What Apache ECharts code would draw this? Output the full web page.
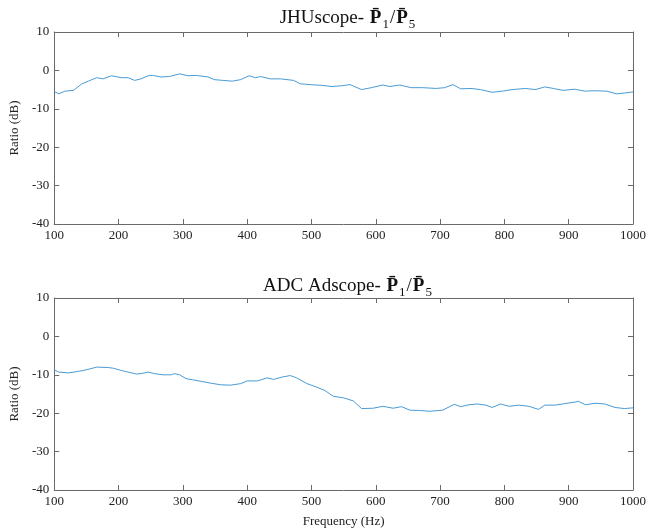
<!DOCTYPE html>
<html><head><meta charset="utf-8">
<script src="https://cdn.jsdelivr.net/npm/echarts@6/dist/echarts.min.js"></script>
<style>html,body{margin:0;padding:0;background:#fff}#c{width:649px;height:531px}</style>
</head><body><div id="c"></div>
<script>
const xTicks = [100,200,300,400,500,600,700,800,900,1000];
const yTicks = [-40,-30,-20,-10,0,10];
const topTitle = 'JHUscope- ';
const botTitle = 'ADC Adscope- ';
const xName = 'Frequency (Hz)';
const yName = 'Ratio (dB)';
const topFreq = [100,107,117,130,143,153,166,176,189,205,215,225,235,246,253,266,279,295,308,320,339,349,362,377,390,403,413,421,436,452,472,483,498,516,532,547,560,578,593,611,622,637,655,673,694,707,720,732,748,763,781,797,812,833,848,863,876,891,909,925,941,959,974,987,1000];
const topVal = [-5.5,-6.1,-5.4,-5.2,-3.5,-2.8,-1.9,-2.2,-1.4,-1.9,-1.9,-2.6,-2.2,-1.4,-1.3,-1.7,-1.6,-0.9,-1.4,-1.3,-1.7,-2.4,-2.6,-2.8,-2.4,-1.4,-1.9,-1.6,-2.2,-2.2,-2.6,-3.5,-3.7,-3.9,-4.2,-4.0,-3.7,-5.0,-4.5,-3.8,-4.2,-3.8,-4.5,-4.5,-4.7,-4.5,-3.7,-4.8,-4.7,-5.0,-5.7,-5.4,-5.0,-4.7,-5.0,-4.3,-4.7,-5.2,-4.9,-5.4,-5.3,-5.4,-6.1,-5.9,-5.6];
const botFreq = [100,107,122,138,150,166,184,192,205,215,228,235,246,256,269,282,287,295,305,315,328,344,359,374,390,400,416,431,441,454,467,477,493,508,521,534,550,565,578,596,611,627,640,653,668,684,704,722,732,745,758,771,781,794,807,822,838,853,863,879,894,910,915,926,941,956,972,987,1000];
const botVal = [-8.7,-9.3,-9.5,-9.1,-8.7,-8.0,-8.1,-8.3,-8.9,-9.3,-9.8,-9.7,-9.3,-9.7,-10.0,-10.0,-9.7,-10.0,-11.0,-11.3,-11.7,-12.2,-12.6,-12.7,-12.3,-11.6,-11.6,-10.8,-11.2,-10.6,-10.2,-10.8,-12.3,-13.2,-14.1,-15.6,-16.0,-16.8,-18.8,-18.7,-18.2,-18.7,-18.3,-19.2,-19.3,-19.5,-19.2,-17.7,-18.3,-17.8,-17.6,-17.9,-18.5,-17.6,-18.2,-17.9,-18.2,-19.0,-17.9,-17.9,-17.5,-17.1,-16.9,-17.8,-17.4,-17.6,-18.5,-18.8,-18.6];

const FONT = '"Liberation Serif","DejaVu Serif",serif';
const AX = '#6a6a6a';
const LINE = '#4a9bd6';
const pairs = (xs, ys) => xs.map((x, i) => [x, ys[i]]);

function titleRich() {
  return {
    a: {fontFamily: FONT, fontSize: 19, fontWeight: 'normal', color: '#111', lineHeight: 24, verticalAlign: 'bottom'},
    b: {fontFamily: FONT, fontSize: 19, fontWeight: 'bold', color: '#111', lineHeight: 24, verticalAlign: 'bottom', padding: [0,1,0,1]},
    s: {fontFamily: FONT, fontSize: 13, fontWeight: 'normal', color: '#111', lineHeight: 20, verticalAlign: 'bottom', padding: [0,1,-3,0]}
  };
}
function titleText(t) { return '{a|' + t + '}{b|P\u0304}{s|1}{a|/}{b|P\u0304}{s|5}'; }

const grids = [
  {left: 53, right: 14, top: 32, height: 192},
  {left: 53, right: 14, top: 298, height: 192}
];
const xAxes = [], yAxes = [];
grids.forEach((g, i) => {
  const base = {gridIndex: i, type: 'value', min: 100, max: 1000, interval: 100,
    axisLine: {show: true, onZero: false, lineStyle: {color: AX, width: 1}},
    axisTick: {show: true, inside: true, length: 5, lineStyle: {color: AX}},
    splitLine: {show: false}};
  xAxes.push(Object.assign({}, base, {position: 'bottom',
    axisLabel: {show: true, fontFamily: FONT, fontSize: 13, color: '#222', margin: 5, formatter: v => String(v)},
    name: i === 1 ? xName : '', nameLocation: 'middle', nameGap: 25,
    nameTextStyle: {fontFamily: FONT, fontSize: 13, color: '#222'}}));
  xAxes.push(Object.assign({}, base, {position: 'top', axisLabel: {show: false}}));
  const ybase = {gridIndex: i, type: 'value', min: -40, max: 10, interval: 10,
    axisLine: {show: true, onZero: false, lineStyle: {color: AX, width: 1}},
    axisTick: {show: true, inside: true, length: 5, lineStyle: {color: AX}},
    splitLine: {show: false}};
  yAxes.push(Object.assign({}, ybase, {position: 'left',
    axisLabel: {show: true, fontFamily: FONT, fontSize: 13, color: '#222', margin: 5},
    name: yName, nameLocation: 'middle', nameGap: 31,
    nameTextStyle: {fontFamily: FONT, fontSize: 13, color: '#222'}}));
  yAxes.push(Object.assign({}, ybase, {position: 'right', axisLabel: {show: false}}));
});

const chart = echarts.init(document.getElementById('c'), null, {renderer: 'canvas'});
chart.setOption({
  animation: false,
  backgroundColor: '#fff',
  title: [
    {text: titleText(topTitle), left: 343, top: -1, textAlign: 'center', textStyle: {fontWeight: 'normal', rich: titleRich()}},
    {text: titleText(botTitle), left: 343, top: 267, textAlign: 'center', textStyle: {fontWeight: 'normal', rich: titleRich()}}
  ],
  grid: grids,
  xAxis: xAxes,
  yAxis: yAxes,
  series: [
    {type: 'line', xAxisIndex: 0, yAxisIndex: 0, data: pairs(topFreq, topVal), showSymbol: false,
     lineStyle: {color: LINE, width: 1}, itemStyle: {color: LINE}},
    {type: 'line', xAxisIndex: 2, yAxisIndex: 2, data: pairs(botFreq, botVal), showSymbol: false,
     lineStyle: {color: LINE, width: 1}, itemStyle: {color: LINE}}
  ]
});
</script></body></html>
